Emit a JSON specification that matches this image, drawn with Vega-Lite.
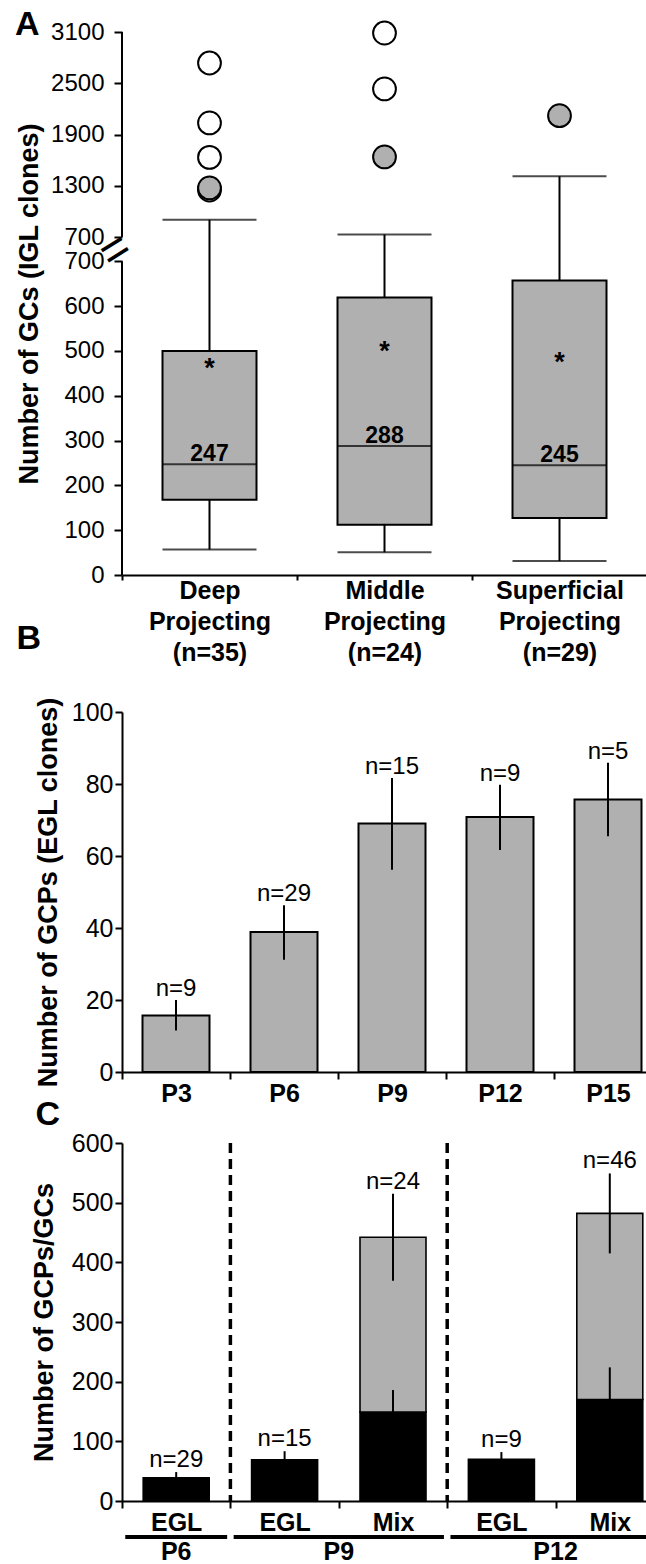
{
  "$schema": "https://vega.github.io/schema/vega-lite/v6.json",
  "background": "white",
  "padding": {"left": 14, "top": 8, "right": 0, "bottom": 0},
  "config": {
    "view": {"stroke": null},
    "font": "Liberation Sans",
    "axis": {"grid": false, "domainColor": "black", "domainWidth": 2, "tickColor": "black", "tickWidth": 2, "labelColor": "black", "titleColor": "black", "labelFont": "Liberation Sans", "titleFont": "Liberation Sans", "labelFontSize": 25, "titleFontSize": 27, "titleFontWeight": "bold", "labelOverlap": false, "labelFlush": false, "labelBound": false}
  },
  "datasets": {
    "boxes": [
      {"cat": "Deep Projecting (n=35)", "lw": 57, "q1": 168, "median": 247, "q3": 500, "uw": 903, "mean": 476},
      {"cat": "Middle Projecting (n=24)", "lw": 51, "q1": 112, "median": 288, "q3": 619, "uw": 730, "mean": 514},
      {"cat": "Superficial Projecting (n=29)", "lw": 31, "q1": 127, "median": 245, "q3": 657, "uw": 1410, "mean": 488}
    ],
    "outliers": [
      {"cat": "Deep Projecting (n=35)", "value": 2737, "kind": "open"},
      {"cat": "Deep Projecting (n=35)", "value": 2035, "kind": "open"},
      {"cat": "Deep Projecting (n=35)", "value": 1632, "kind": "open"},
      {"cat": "Deep Projecting (n=35)", "value": 1250, "kind": "open"},
      {"cat": "Deep Projecting (n=35)", "value": 1274, "kind": "filled"},
      {"cat": "Middle Projecting (n=24)", "value": 3088, "kind": "open"},
      {"cat": "Middle Projecting (n=24)", "value": 2433, "kind": "open"},
      {"cat": "Middle Projecting (n=24)", "value": 1637, "kind": "filled"},
      {"cat": "Superficial Projecting (n=29)", "value": 2120, "kind": "filled"}
    ],
    "axisline": [
      {"cat": "Deep Projecting (n=35)", "lo": 0, "hi": 700, "part": "lower"},
      {"cat": "Deep Projecting (n=35)", "lo": 700.0001, "hi": 3100, "part": "upper"}
    ],
    "egl": [
      {"day": "P3", "mean": 15.7, "lo": 11.5, "hi": 20, "n": "n=9"},
      {"day": "P6", "mean": 38.9, "lo": 31.2, "hi": 46.3, "n": "n=29"},
      {"day": "P9", "mean": 69.0, "lo": 56.2, "hi": 81.7, "n": "n=15"},
      {"day": "P12", "mean": 70.8, "lo": 61.7, "hi": 79.8, "n": "n=9"},
      {"day": "P15", "mean": 75.7, "lo": 65.5, "hi": 85.9, "n": "n=5"}
    ],
    "segs": [
      {"cat": "P6 EGL", "part": "GCPs", "start": 0, "end": 39},
      {"cat": "P9 EGL", "part": "GCPs", "start": 0, "end": 69},
      {"cat": "P9 Mix", "part": "GCPs", "start": 0, "end": 149},
      {"cat": "P9 Mix", "part": "GCs", "start": 149, "end": 442},
      {"cat": "P12 EGL", "part": "GCPs", "start": 0, "end": 70},
      {"cat": "P12 Mix", "part": "GCPs", "start": 0, "end": 170},
      {"cat": "P12 Mix", "part": "GCs", "start": 170, "end": 482}
    ],
    "errs": [
      {"cat": "P6 EGL", "lo": 29.5, "hi": 48.5, "n": "n=29"},
      {"cat": "P9 EGL", "lo": 54.5, "hi": 83.5, "n": "n=15"},
      {"cat": "P9 Mix", "lo": 111, "hi": 186, "n": ""},
      {"cat": "P9 Mix", "lo": 369, "hi": 515, "n": "n=24"},
      {"cat": "P12 EGL", "lo": 58, "hi": 82, "n": "n=9"},
      {"cat": "P12 Mix", "lo": 116, "hi": 224, "n": ""},
      {"cat": "P12 Mix", "lo": 415, "hi": 549, "n": "n=46"}
    ],
    "dividers": [{"cat": "P9 EGL"}, {"cat": "P12 EGL"}],
    "groups": [
      {"group": "P6", "first": "P6 EGL", "last": "P6 EGL", "row": "line"},
      {"group": "P9", "first": "P9 EGL", "last": "P9 Mix", "row": "line"},
      {"group": "P12", "first": "P12 EGL", "last": "P12 Mix", "row": "line"}
    ],
    "grouplabels": [
      {"group": "P6", "at": "P6 EGL", "row": "label", "pos": "center"},
      {"group": "P9", "at": "P9 Mix", "row": "label", "pos": "start"},
      {"group": "P12", "at": "P12 Mix", "row": "label", "pos": "start"}
    ]
  },
  "columns": 1,
  "align": "none",
  "spacing": 0,
  "concat": [
    {
      "width": 525,
      "height": 543,
      "encoding": {
        "x": {"field": "cat", "type": "nominal", "sort": null,
          "scale": {"domain": ["Deep Projecting (n=35)", "Middle Projecting (n=24)", "Superficial Projecting (n=29)"], "paddingInner": 0, "paddingOuter": 0},
          "axis": {"title": "B", "titleX": -106, "titleY": 63.5, "titleAlign": "left", "titleBaseline": "middle", "titleFontSize": 34, "titleAngle": 0,
            "labelExpr": "split(datum.label + ' ', ' ')", "labelAngle": 0, "labelFontWeight": "bold", "labelFontSize": 25, "labelLineHeight": 31, "labelPadding": -2, "tickSize": 5, "tickBand": "extent"}}
      },
      "layer": [
        {"data": {"name": "axisline"},
          "mark": {"type": "rule", "color": "black", "strokeWidth": 2},
          "encoding": {"x": {"field": "cat", "type": "nominal", "bandPosition": 0},
            "y": {"field": "lo", "type": "quantitative", "title": "Number of GCs (IGL clones)",
              "scale": {"domain": [0, 700, 700.0001, 3100], "range": [543, 229.3, 205, 0], "nice": false, "zero": false},
              "axis": {"domain": false, "values": [0, 100, 200, 300, 400, 500, 600, 700, 700.0001, 1300, 1900, 2500, 3100], "labelExpr": "format(round(datum.value), 'd')", "labelFontSize": 24, "tickSize": 8, "labelPadding": 10, "titleX": -79}},
            "y2": {"field": "hi"}}},
        {"data": {"name": "boxes"},
          "mark": {"type": "rule", "color": "black", "strokeWidth": 2},
          "encoding": {"y": {"field": "lw", "type": "quantitative", "title": "Number of GCs (IGL clones)"}, "y2": {"field": "uw"}}},
        {"data": {"name": "boxes"},
          "mark": {"type": "tick", "orient": "horizontal", "size": 94, "thickness": 2, "color": "black"},
          "encoding": {"y": {"field": "lw", "type": "quantitative", "title": "Number of GCs (IGL clones)"}}},
        {"data": {"name": "boxes"},
          "mark": {"type": "tick", "orient": "horizontal", "size": 94, "thickness": 2, "color": "black"},
          "encoding": {"y": {"field": "uw", "type": "quantitative", "title": "Number of GCs (IGL clones)"}}},
        {"data": {"name": "boxes"},
          "mark": {"type": "bar", "width": 94, "fill": "#b0b0b0", "stroke": "black", "strokeWidth": 2},
          "encoding": {"y": {"field": "q1", "type": "quantitative", "title": "Number of GCs (IGL clones)"}, "y2": {"field": "q3"}}},
        {"data": {"name": "boxes"},
          "mark": {"type": "tick", "orient": "horizontal", "size": 94, "thickness": 2, "color": "black"},
          "encoding": {"y": {"field": "median", "type": "quantitative", "title": "Number of GCs (IGL clones)"}}},
        {"data": {"name": "boxes"},
          "mark": {"type": "text", "baseline": "alphabetic", "dy": -3, "fontSize": 23, "fontWeight": "bold", "color": "black"},
          "encoding": {"y": {"field": "median", "type": "quantitative", "title": "Number of GCs (IGL clones)"}, "text": {"field": "median", "type": "quantitative"}}},
        {"data": {"name": "boxes"},
          "mark": {"type": "text", "text": "*", "baseline": "alphabetic", "dy": 15, "fontSize": 27, "fontWeight": "bold", "color": "black"},
          "encoding": {"y": {"field": "mean", "type": "quantitative", "title": "Number of GCs (IGL clones)"}}},
        {"data": {"name": "outliers"},
          "mark": {"type": "point", "shape": "circle", "filled": true, "size": 520, "stroke": "black", "strokeWidth": 2, "opacity": 1},
          "encoding": {"y": {"field": "value", "type": "quantitative", "title": "Number of GCs (IGL clones)"},
            "fill": {"field": "kind", "type": "nominal", "scale": {"domain": ["open", "filled", "GCPs", "GCs"], "range": ["white", "#b0b0b0", "black", "#b0b0b0"]}, "legend": null}}},
        {"data": {"name": "axisline"},
          "transform": [{"filter": "datum.part == 'lower'"}],
          "mark": {"type": "text", "text": "=", "angle": -32, "fontSize": 48, "align": "center", "baseline": "middle", "dy": -12, "color": "black"},
          "encoding": {"x": {"field": "cat", "type": "nominal", "bandPosition": 0},
            "y": {"field": "hi", "type": "quantitative", "title": "Number of GCs (IGL clones)"}}},
        {"data": {"name": "axisline"},
          "transform": [{"filter": "datum.part == 'upper'"}],
          "mark": {"type": "text", "text": "A", "align": "left", "baseline": "middle", "dx": -107, "dy": -7, "fontSize": 34, "fontWeight": "bold", "color": "black"},
          "encoding": {"x": {"field": "cat", "type": "nominal", "bandPosition": 0},
            "y": {"field": "hi", "type": "quantitative", "title": "Number of GCs (IGL clones)"}}}
      ]
    },
    {
      "width": 540,
      "height": 360,
      "data": {"name": "egl"},
      "encoding": {
        "x": {"field": "day", "type": "nominal", "sort": null, "scale": {"paddingInner": 0, "paddingOuter": 0},
          "axis": {"title": "C", "titleX": -87, "titleY": 42, "titleAlign": "left", "titleBaseline": "middle", "titleFontSize": 34, "titleAngle": 0,
            "labelAngle": 0, "labelFontWeight": "bold", "labelFontSize": 25, "labelPadding": 2, "tickSize": 7, "tickBand": "extent"}}
      },
      "layer": [
        {"mark": {"type": "bar", "width": 67, "fill": "#b0b0b0", "stroke": "black", "strokeWidth": 2},
          "encoding": {"y": {"field": "mean", "type": "quantitative", "title": "Number of GCPs (EGL clones)", "scale": {"domain": [0, 100], "nice": false},
            "axis": {"values": [0, 20, 40, 60, 80, 100], "tickSize": 7, "labelPadding": 2, "titleX": -60}}}},
        {"mark": {"type": "rule", "color": "black", "strokeWidth": 2},
          "encoding": {"y": {"field": "lo", "type": "quantitative", "title": "Number of GCPs (EGL clones)"}, "y2": {"field": "hi"}}},
        {"mark": {"type": "text", "baseline": "alphabetic", "dy": -4, "fontSize": 24, "color": "black"},
          "encoding": {"y": {"field": "hi", "type": "quantitative", "title": "Number of GCPs (EGL clones)"}, "text": {"field": "n"}}}
      ]
    },
    {
      "width": 542,
      "height": 358,
      "encoding": {
        "x": {"field": "cat", "type": "nominal", "sort": null,
          "scale": {"domain": ["P6 EGL", "P9 EGL", "P9 Mix", "P12 EGL", "P12 Mix"], "paddingInner": 0, "paddingOuter": 0},
          "axis": {"title": null, "labelExpr": "split(datum.label, ' ')[1]", "labelAngle": 0, "labelFontWeight": "bold", "labelFontSize": 25, "labelPadding": 2, "tickSize": 7, "tickBand": "extent"}}
      },
      "layer": [
        {"data": {"name": "dividers"},
          "mark": {"type": "rule", "color": "black", "strokeWidth": 3.5, "strokeDash": [10, 6]},
          "encoding": {"x": {"field": "cat", "type": "nominal", "bandPosition": 0}}},
        {"data": {"name": "segs"},
          "mark": {"type": "bar", "width": 66, "stroke": "black", "strokeWidth": 1.6},
          "encoding": {
            "y": {"field": "end", "type": "quantitative", "title": "Number of GCPs/GCs", "scale": {"domain": [0, 600], "nice": false},
              "axis": {"values": [0, 100, 200, 300, 400, 500, 600], "tickSize": 7, "labelPadding": 2, "titleX": -64}},
            "y2": {"field": "start"},
            "fill": {"field": "part", "type": "nominal", "scale": {"domain": ["open", "filled", "GCPs", "GCs"], "range": ["white", "#b0b0b0", "black", "#b0b0b0"]}, "legend": null}
          }},
        {"data": {"name": "errs"},
          "mark": {"type": "rule", "color": "black", "strokeWidth": 2},
          "encoding": {"y": {"field": "lo", "type": "quantitative", "title": "Number of GCPs/GCs"}, "y2": {"field": "hi"}}},
        {"data": {"name": "errs"},
          "mark": {"type": "text", "baseline": "alphabetic", "dy": -5, "fontSize": 24, "color": "black"},
          "encoding": {"y": {"field": "hi", "type": "quantitative", "title": "Number of GCPs/GCs"}, "text": {"field": "n"}}}
      ]
    },
    {
      "width": 542,
      "height": 15,
      "encoding": {
        "x": {"type": "nominal", "scale": {"domain": ["P6 EGL", "P9 EGL", "P9 Mix", "P12 EGL", "P12 Mix"], "paddingInner": 0, "paddingOuter": 0}, "axis": null},
        "y": {"field": "row", "type": "ordinal", "scale": {"type": "point", "domain": ["line", "label"], "padding": 0},
          "axis": {"title": "P", "titleColor": "transparent", "titleFontSize": 4, "titleAngle": 0, "titleX": -90, "titleY": 8, "titleAlign": "left", "titleBaseline": "middle", "labels": false, "ticks": false, "domain": false}}
      },
      "layer": [
        {"data": {"name": "groups"},
          "mark": {"type": "rule", "color": "black", "strokeWidth": 4},
          "encoding": {
            "x": {"field": "first", "type": "nominal", "bandPosition": 0.03},
            "x2": {"field": "last", "bandPosition": 0.97}
          }},
        {"data": {"name": "grouplabels"},
          "transform": [{"filter": "datum.pos == 'center'"}],
          "mark": {"type": "text", "fontSize": 25, "fontWeight": "bold", "baseline": "middle", "color": "black"},
          "encoding": {
            "x": {"field": "at", "type": "nominal", "bandPosition": 0.5},
            "text": {"field": "group"}
          }},
        {"data": {"name": "grouplabels"},
          "transform": [{"filter": "datum.pos == 'start'"}],
          "mark": {"type": "text", "fontSize": 25, "fontWeight": "bold", "baseline": "middle", "color": "black"},
          "encoding": {
            "x": {"field": "at", "type": "nominal", "bandPosition": 0},
            "text": {"field": "group"}
          }}
      ]
    }
  ]
}
